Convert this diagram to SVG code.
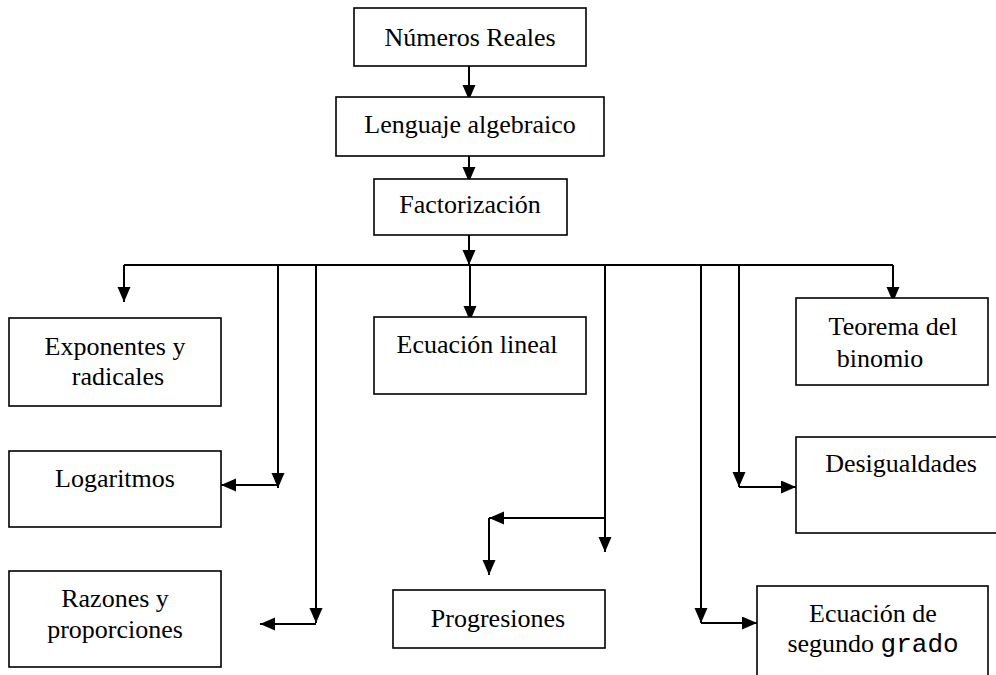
<svg xmlns="http://www.w3.org/2000/svg" width="996" height="675" viewBox="0 0 996 675">
<defs>
<marker id="ah" markerUnits="userSpaceOnUse" markerWidth="16" markerHeight="14" refX="15" refY="6.5" orient="auto">
<path d="M0,0 L15,6.5 L0,13 z" fill="#000"/>
</marker>
<style>
.box{fill:#fff;stroke:#000;stroke-width:1.6}
.t{font-family:'Liberation Serif','DejaVu Serif',serif;font-size:26px;fill:#000;text-anchor:middle}
.m{font-family:'Liberation Mono','DejaVu Sans Mono',monospace}
.c{fill:none;stroke:#000;stroke-width:2}
.a{marker-end:url(#ah)}
</style>
</defs>
<rect width="996" height="675" fill="#fff"/>
<g id="connectors">
<path class="c a" d="M469,66 V100"/>
<path class="c a" d="M469,156 V182"/>
<path class="c a" d="M469,235 V265"/>
<path class="c" d="M124,265 H893"/>
<path class="c a" d="M124,265 V302"/>
<path class="c a" d="M470,265 V321"/>
<path class="c a" d="M893,265 V302"/>
<path class="c a" d="M278,265 V488"/>
<path class="c a" d="M278,485 H221"/>
<path class="c a" d="M316,265 V623"/>
<path class="c a" d="M316,624 H260"/>
<path class="c a" d="M605,265 V552"/>
<path class="c a" d="M605,518 H489"/>
<path class="c a" d="M489,518 V575"/>
<path class="c a" d="M739,265 V487"/>
<path class="c a" d="M739,487 H796"/>
<path class="c a" d="M701,265 V623"/>
<path class="c a" d="M701,623 H757"/>
</g>
<g id="numeros-reales">
<rect class="box" x="354" y="8" width="232" height="58"/>
<text class="t" x="470" y="46" font-family="Liberation Serif, serif">Números Reales</text>
</g>
<g id="lenguaje-algebraico">
<rect class="box" x="336" y="97" width="268" height="59"/>
<text class="t" x="470" y="133">Lenguaje algebraico</text>
</g>
<g id="factorizacion">
<rect class="box" x="374" y="179" width="193" height="56"/>
<text class="t" x="470" y="213">Factorización</text>
</g>
<g id="exponentes">
<rect class="box" x="9" y="318" width="212" height="88"/>
<text class="t" x="115" y="355">Exponentes y</text>
<text class="t" x="118" y="385">radicales</text>
</g>
<g id="logaritmos">
<rect class="box" x="9" y="451" width="212" height="76"/>
<text class="t" x="115" y="487">Logaritmos</text>
</g>
<g id="razones">
<rect class="box" x="9" y="571" width="212" height="96"/>
<text class="t" x="115" y="607">Razones y</text>
<text class="t" x="115" y="638">proporciones</text>
</g>
<g id="ecuacion-lineal">
<rect class="box" x="374" y="317" width="212" height="77"/>
<text class="t" x="477" y="353">Ecuación lineal</text>
</g>
<g id="progresiones">
<rect class="box" x="393" y="590" width="212" height="58"/>
<text class="t" x="498" y="627">Progresiones</text>
</g>
<g id="teorema-binomio">
<rect class="box" x="796" y="298" width="192" height="87"/>
<text class="t" x="893" y="335">Teorema del</text>
<text class="t" x="880" y="367">binomio</text>
</g>
<g id="desigualdades">
<rect class="box" x="796" y="437" width="220" height="96"/>
<text class="t" x="901" y="472">Desigualdades</text>
</g>
<g id="ecuacion-segundo-grado">
<rect class="box" x="757" y="586" width="231" height="110"/>
<text class="t" x="873" y="622">Ecuación de</text>
<text class="t" x="873" y="652">segundo <tspan class="m">grado</tspan></text>
</g>
</svg>
